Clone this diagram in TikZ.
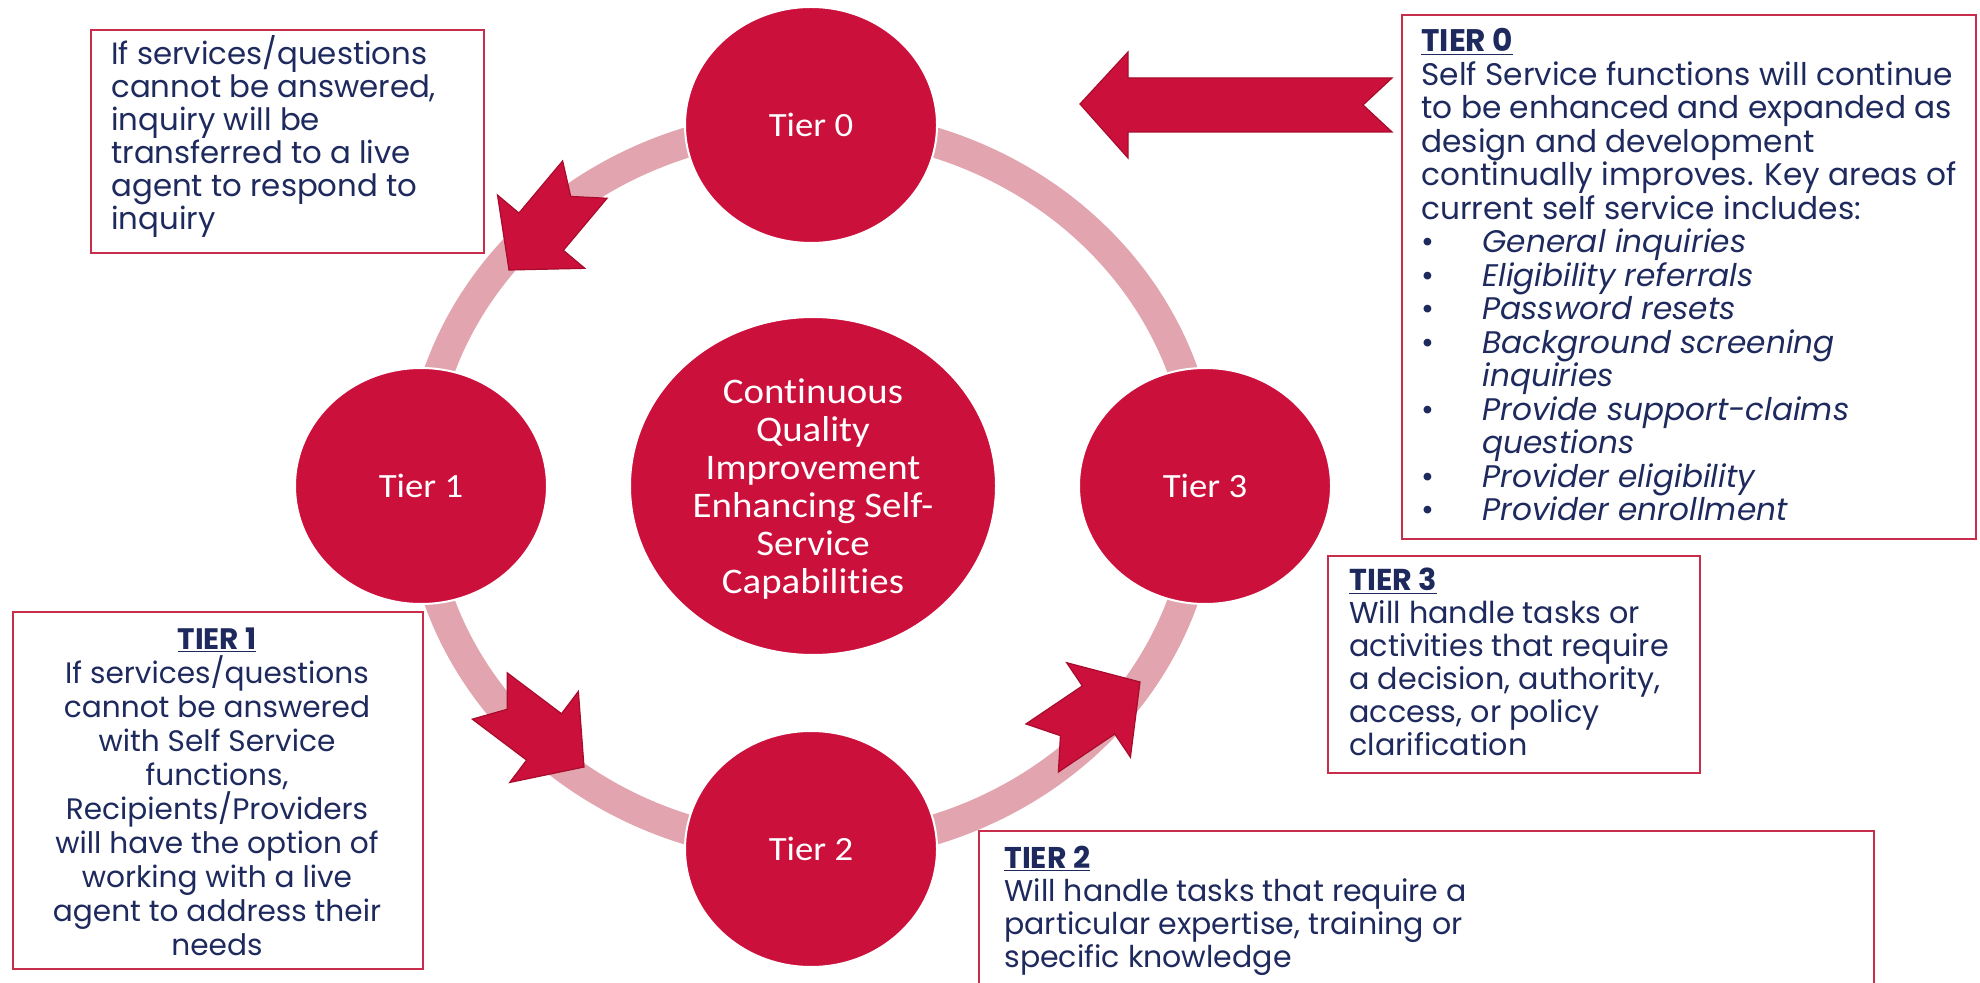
\documentclass[tikz,border=0pt]{standalone}
\usepackage{fontspec}
\usepackage{graphicx}
\setmainfont{Poppins}
\newfontfamily\calib[Ligatures=NoCommon]{Carlito}
\usetikzlibrary{shapes.geometric}
\definecolor{crim}{RGB}{204,16,60}
\definecolor{crimdark}{RGB}{168,12,44}
\definecolor{ringpink}{RGB}{226,165,175}
\definecolor{navy}{RGB}{30,42,94}
\definecolor{boxred}{RGB}{200,45,75}
\newcommand{\btext}[4]{\parbox[t]{#3}{\fontsize{#1}{#2}\selectfont\raggedright #4}}
\newcommand{\ctext}[4]{\parbox[t]{#3}{\fontsize{#1}{#2}\selectfont\centering #4}}
\newcommand{\bul}[1]{\makebox[30.5pt][l]{\textbullet}\textit{#1}}
\newcommand{\ind}[1]{\hspace*{30.5pt}\textit{#1}}
\newcommand{\head}[1]{\underline{\textbf{#1}}}
\newcommand{\wide}[1]{\scalebox{1.08}[1]{#1}}
\begin{document}
\begin{tikzpicture}[x=0.5pt,y=-0.5pt,
  tiercircle/.style={ellipse, fill=crim, draw=white, line width=1pt,
    minimum width=126pt, minimum height=118pt, inner sep=0pt,
    text=white, font=\calib\fontsize{17}{20}\selectfont},
  boxframe/.style={draw=boxred, line width=1pt, fill=white, inner sep=0pt},
  boxtext/.style={inner sep=0pt, text=navy},
  ringarrow/.pic={\filldraw[fill=crim, draw=crimdark, line width=0.6pt]
    (0,0) -- (-50,-57) -- (-50,-29) -- (-118,-29) -- (-96,0) -- (-118,29)
    -- (-50,29) -- (-50,57) -- cycle;}
]
\useasboundingbox[fill=white] (0,0) rectangle (1980,983);

% ring
\coordinate (rc) at (811,486);
\draw[ringpink, line width=15pt] (rc) ellipse [x radius=392, y radius=362];

% arrows on ring
\coordinate (a1) at (509,270);
\coordinate (a2) at (584,767);
\coordinate (a3) at (1140,682);
\pic[rotate=230] at (a1) {ringarrow};
\pic[rotate=-37] at (a2) {ringarrow};
\pic[rotate=34] at (a3) {ringarrow};

% circles
\node[tiercircle] (t0) at (811,125) {\wide{Tier 0}};
\node[tiercircle] (t1) at (421,486) {\wide{Tier 1}};
\node[tiercircle] (t2) at (811,849) {\wide{Tier 2}};
\node[tiercircle] (t3) at (1205,486) {\wide{Tier 3}};
\node[ellipse, fill=crim, draw=white, line width=1pt, minimum width=183pt,
  minimum height=169pt, inner sep=0pt] (cqi) at (813,486) {};
\node[inner sep=0pt, text=white] (cqitext) at (813,489)
  {\wide{\parbox{140pt}{\calib\fontsize{18}{19}\selectfont\centering
  Continuous\\Quality\\Improvement\\Enhancing Self-\\Service\\Capabilities}}};

% big left arrow
\coordinate (ha) at (1080,104);
\filldraw[fill=crim, draw=crimdark, line width=0.6pt]
  (ha) -- ++(48,-52) -- ++(0,26) -- ++(264,0) -- ++(-29,27) -- ++(29,27)
  -- ++(-264,0) -- ++(0,26) -- cycle;

% boxes
\node[boxframe, minimum width=196.5pt, minimum height=111.5pt] (bTL) at (287.5,141.5) {};
\node[boxframe, minimum width=287pt, minimum height=262pt] (b0) at (1689,277) {};
\node[boxframe, minimum width=186pt, minimum height=108.5pt] (b3) at (1514,664.5) {};
\node[boxframe, minimum width=205pt, minimum height=178.5pt] (b1) at (218,790.5) {};
\coordinate (b2a) at (979,990);
\coordinate (b2b) at (1874,990);
\draw[boxred, line width=1pt] (b2a) -- (979,831) -- (1874,831) -- (b2b);

% texts
\node[boxtext, anchor=base west] (tTL) at (111,65) {\btext{15.4}{16.5}{190pt}{If services/questions\\cannot be answered,\\inquiry will be\\transferred to a live\\agent to respond to\\inquiry}};

\node[boxtext, anchor=base west] (t0t) at (1421,52) {\btext{15.6}{16.75}{285pt}{\head{TIER 0}\\Self Service functions will continue\\to be enhanced and expanded as\\design and development\\continually improves. Key areas of\\current self service includes:\\
\bul{General inquiries}\\\bul{Eligibility referrals}\\\bul{Password resets}\\\bul{Background screening}\\\ind{inquiries}\\\bul{Provide support-claims}\\\ind{questions}\\\bul{Provider eligibility}\\\bul{Provider enrollment}}};

\node[boxtext, anchor=base west] (t3t) at (1349,590) {\btext{15.1}{16.5}{180pt}{\head{TIER 3}\\Will handle tasks or\\activities that require\\a decision, authority,\\access, or policy\\clarification}};

\node[boxtext, anchor=base west] (t2t) at (1004,868) {\btext{15}{16.5}{420pt}{\head{TIER 2}\\Will handle tasks that require a\\particular expertise, training or\\specific knowledge}};

\node[boxtext, anchor=base] (t1t) at (217,649) {\ctext{14.8}{17}{200pt}{\head{TIER 1}\\If services/questions\\cannot be answered\\with Self Service\\functions,\\Recipients/Providers\\will have the option of\\working with a live\\agent to address their\\needs}};
\end{tikzpicture}
\end{document}
